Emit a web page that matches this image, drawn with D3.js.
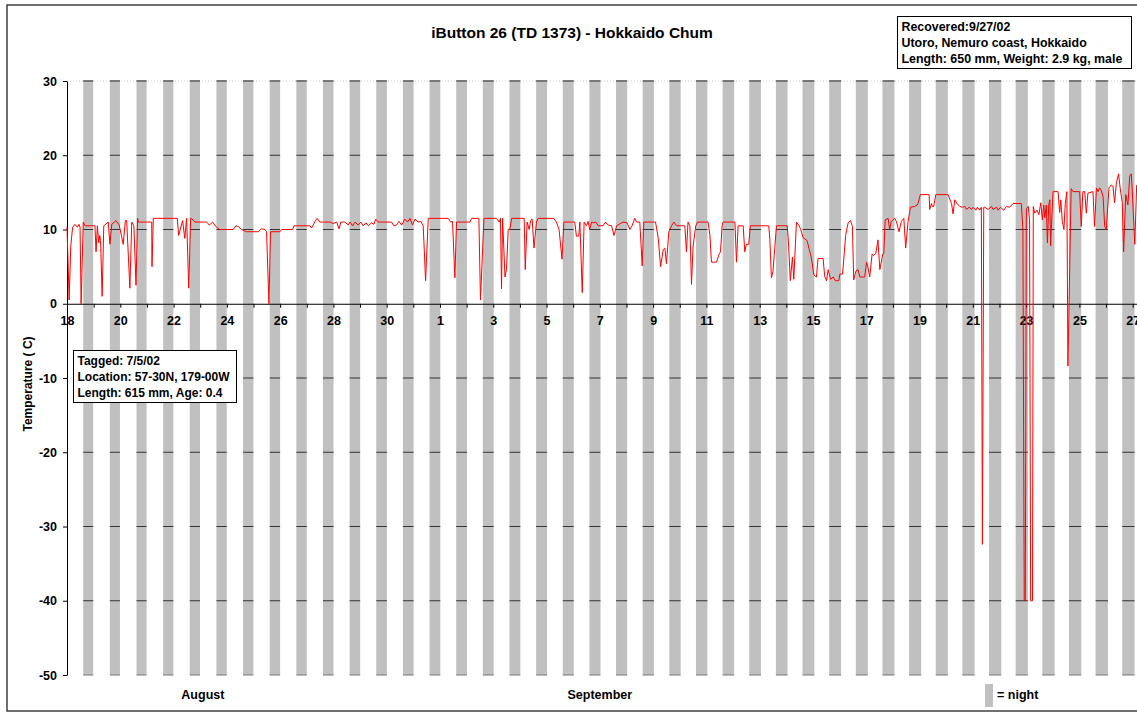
<!DOCTYPE html>
<html>
<head>
<meta charset="utf-8">
<script src="https://cdn.jsdelivr.net/npm/d3@7"></script>
<style>
    body { margin: 0; background: #fff; }
    text { font-family: "Liberation Sans", Arial, sans-serif; font-weight: bold; }
</style>
</head>
<body>
<div id="root"></div>
<script>
// readings: [days after Aug 18 00:00, temperature C]
const readings = [
    [0.00,10.4],[0.08,0.5],[0.14,7.7],[0.21,10.3],[0.30,10.7],[0.39,10.3],[0.45,10.7],[0.49,10.3],[0.53,0.0],[0.61,11.0],
    [0.68,10.5],[0.99,10.5],[1.05,10.5],[1.09,7.0],[1.14,10.5],[1.19,8.2],[1.23,9.2],[1.26,8.5],[1.32,1.0],[1.38,10.5],
    [1.55,11.0],[1.61,8.0],[1.68,10.7],[1.84,11.2],[1.96,10.6],[2.11,8.0],[2.19,11.2],[2.24,11.2],[2.36,2.1],[2.43,11.0],
    [2.51,10.5],[2.59,2.5],[2.65,11.5],[2.68,11.0],[3.18,11.0],[3.19,5.0],[3.24,11.5],[4.14,11.5],[4.19,9.2],[4.34,11.2],
    [4.42,8.8],[4.49,11.5],[4.57,2.1],[4.64,11.5],[4.70,11.4],[4.80,11.0],[5.24,11.0],[5.34,10.6],[5.47,11.0],[5.56,10.5],
    [5.72,10.0],[6.24,10.0],[6.34,10.5],[6.43,10.4],[6.55,10.0],[6.74,9.7],[7.18,9.7],[7.30,10.1],[7.43,10.0],[7.49,9.7],
    [7.58,0.0],[7.64,9.7],[7.99,9.7],[8.06,10.0],[8.47,10.0],[8.52,10.5],[9.12,10.5],[9.18,10.2],[9.31,11.1],[9.39,11.5],
    [9.49,11.0],[9.62,11.0],[9.87,11.0],[9.99,10.8],[10.12,11.0],[10.21,10.1],[10.28,11.0],[10.43,11.0],[10.56,10.6],[10.62,11.0],
    [10.72,10.5],[10.81,11.0],[10.93,10.6],[11.03,11.0],[11.12,10.5],[11.22,10.9],[11.31,10.5],[11.43,10.9],[11.52,10.7],[11.59,11.4],
    [11.68,11.0],[12.18,11.0],[12.27,10.5],[12.37,10.6],[12.46,11.1],[12.56,10.6],[12.68,11.4],[12.78,11.0],[12.87,11.5],[12.97,10.6],
    [13.06,11.4],[13.18,11.0],[13.28,11.1],[13.37,10.5],[13.46,3.1],[13.56,11.5],[14.31,11.5],[14.40,11.0],[14.47,11.1],[14.56,3.5],
    [14.62,11.0],[15.12,11.0],[15.19,11.5],[15.46,11.5],[15.52,0.5],[15.65,11.5],[16.12,11.5],[16.22,11.0],[16.27,11.5],[16.31,2.0],
    [16.35,11.5],[16.44,3.6],[16.50,4.8],[16.56,10.0],[16.62,10.0],[16.69,11.5],[17.16,11.5],[17.20,4.6],[17.27,11.0],[17.35,10.0],
    [17.40,11.2],[17.46,11.4],[17.53,7.5],[17.62,11.0],[17.68,11.5],[18.27,11.5],[18.37,11.0],[18.47,10.0],[18.58,6.0],[18.65,11.0],
    [19.06,11.0],[19.12,9.1],[19.21,9.1],[19.25,11.0],[19.34,1.5],[19.41,11.0],[19.50,10.5],[19.56,11.1],[19.62,10.0],[19.69,11.0],
    [19.77,10.9],[19.85,11.0],[19.94,10.5],[20.12,10.5],[20.21,11.0],[20.31,10.6],[20.44,10.5],[20.53,9.2],[20.63,10.5],[20.87,11.0],
    [21.02,10.9],[21.13,10.0],[21.21,10.5],[21.31,11.5],[21.38,11.0],[21.50,11.0],[21.59,5.1],[21.65,11.0],[22.09,11.0],[22.19,8.9],
    [22.28,5.0],[22.38,7.3],[22.44,7.5],[22.50,5.4],[22.59,9.7],[22.69,10.5],[22.78,11.0],[22.88,10.5],[23.19,10.5],[23.25,7.0],
    [23.31,11.0],[23.38,10.5],[23.44,2.6],[23.50,7.7],[23.60,10.5],[23.67,11.0],[24.06,11.0],[24.13,9.3],[24.19,5.6],[24.38,5.6],
    [24.47,6.6],[24.53,7.0],[24.59,10.5],[24.63,11.0],[25.07,11.0],[25.13,5.6],[25.19,10.5],[25.38,10.5],[25.44,7.0],[25.50,8.0],
    [25.59,8.0],[25.65,10.5],[26.34,10.5],[26.38,8.8],[26.44,3.5],[26.50,4.4],[26.63,10.5],[27.03,10.5],[27.07,8.9],[27.15,3.1],
    [27.23,6.3],[27.28,3.3],[27.38,11.0],[27.48,10.5],[27.54,10.0],[27.63,8.9],[27.78,8.5],[27.86,7.3],[27.94,6.2],[28.03,3.9],
    [28.13,3.6],[28.19,6.1],[28.38,6.1],[28.44,3.7],[28.51,3.1],[28.57,4.6],[28.66,3.3],[28.76,3.6],[28.84,3.1],[28.97,3.1],
    [29.01,4.0],[29.11,4.0],[29.23,9.3],[29.32,10.9],[29.41,11.2],[29.48,10.4],[29.53,3.2],[29.61,4.4],[29.69,4.6],[29.76,3.6],
    [29.94,3.6],[30.01,5.6],[30.07,4.8],[30.13,3.6],[30.22,6.7],[30.28,6.5],[30.36,6.8],[30.44,8.6],[30.51,4.6],[30.62,6.7],
    [30.66,6.8],[30.71,11.3],[30.82,11.5],[30.88,10.0],[30.94,11.1],[31.07,11.5],[31.13,11.1],[31.23,9.7],[31.32,11.1],[31.41,11.5],
    [31.48,7.5],[31.57,11.1],[31.66,13.0],[31.82,13.1],[31.91,13.3],[31.94,13.5],[32.03,14.7],[32.36,14.7],[32.38,12.7],[32.45,13.5],
    [32.48,13.1],[32.53,13.1],[32.61,14.7],[33.07,14.7],[33.20,13.5],[33.26,12.1],[33.32,14.0],[33.41,13.5],[33.51,13.1],[33.61,13.0],
    [33.70,13.1],[33.76,12.7],[33.86,13.0],[33.95,12.7],[34.01,13.0],[34.11,12.6],[34.17,13.0],[34.26,12.6],[34.32,13.0],[34.36,-32.4],
    [34.41,13.0],[34.45,13.0],[34.57,12.7],[34.70,13.1],[34.76,12.7],[34.89,13.0],[34.95,12.6],[35.04,13.0],[35.16,12.6],[35.26,13.1],
    [35.38,13.0],[35.51,13.5],[35.82,13.5],[35.88,10.0],[35.93,-40.0],[35.97,-40.0],[36.01,12.8],[36.08,13.1],[36.13,11.3],[36.17,-40.0],
    [36.24,-40.0],[36.27,13.1],[36.32,12.2],[36.41,12.6],[36.48,12.0],[36.55,13.6],[36.61,11.3],[36.66,13.3],[36.70,11.6],[36.76,13.3],
    [36.80,8.2],[36.85,13.3],[36.89,14.0],[36.92,7.8],[37.01,15.1],[37.20,15.1],[37.26,12.3],[37.30,14.0],[37.36,11.1],[37.42,10.0],
    [37.47,13.5],[37.53,15.1],[37.57,-8.4],[37.69,15.5],[37.76,15.1],[38.01,15.1],[38.07,10.4],[38.13,15.1],[38.20,15.1],[38.26,12.2],
    [38.32,14.9],[38.51,15.1],[38.57,10.4],[38.64,15.6],[38.70,15.1],[38.76,15.6],[38.82,15.3],[38.89,14.4],[38.95,10.4],[39.01,10.0],
    [39.11,15.6],[39.20,16.0],[39.26,15.8],[39.32,13.6],[39.39,16.3],[39.47,17.5],[39.53,15.6],[39.61,13.6],[39.66,7.0],[39.74,14.7],
    [39.82,13.3],[39.89,17.2],[39.95,17.5],[40.01,13.3],[40.08,8.0],[40.15,16.0]
];

// night bars: start hour of each evening and length in hours, one per day from Aug 18
const nightStartHour = 14.6;
const nightHours = [
    9.0, 9.1, 9.1, 9.2, 9.2, 9.3, 9.3, 9.4, 9.4, 9.5,
    9.5, 9.6, 9.6, 9.7, 9.7, 9.8, 9.8, 9.9, 9.9, 10.0,
    10.0, 10.1, 10.2, 10.3, 10.4, 10.5, 10.5, 10.6, 10.7, 10.8,
    10.8, 10.9, 10.9, 11.0, 11.0, 11.0, 11.1, 11.1, 11.1, 11.1
];

const yTicks = [30, 20, 10, 0, -10, -20, -30, -40, -50];
const monthLabels = [["August", 5.1], ["September", 20.0]];
const tagLines = ["Tagged: 7/5/02", "Location: 57-30N, 179-00W", "Length: 615 mm, Age: 0.4"];
const recoverLines = ["Recovered:9/27/02", "Utoro, Nemuro coast, Hokkaido", "Length: 650 mm, Weight: 2.9 kg, male"];

const width = 1137, height = 715;
const start = new Date(2002, 7, 18);
const DAY = 864e5;
const toDate = t => new Date(start.getTime() + t * DAY);

const svg = d3.select("#root").append("svg")
    .attr("width", width)
    .attr("height", height);

const x = d3.scaleTime()
    .domain([start, toDate(40.2)])
    .range([67, 1138]);

const y = d3.scaleLinear()
    .domain([-50, 30])
    .range([675, 81]);

// outer frame
svg.append("rect")
    .attr("x", 7).attr("y", 5)
    .attr("width", width + 20).attr("height", 706)
    .attr("fill", "none")
    .attr("stroke", "#222")
    .attr("stroke-width", 1.3);

// title
svg.append("text")
    .attr("x", 572).attr("y", 38)
    .attr("text-anchor", "middle")
    .style("font-size", "15.5px")
    .text("iButton 26 (TD 1373) - Hokkaido Chum");

// faint top border of plot
svg.append("line")
    .attr("x1", 67).attr("x2", 1138)
    .attr("y1", y(30)).attr("y2", y(30))
    .attr("stroke", "#ccc")
    .attr("stroke-dasharray", "1,2");

// night bars
const nights = nightHours.map((h, i) => ({
    s: toDate(i + nightStartHour / 24),
    e: toDate(i + (nightStartHour + h) / 24)
}));

svg.append("g").selectAll("rect")
    .data(nights)
    .enter().append("rect")
    .attr("x", d => x(d.s))
    .attr("y", y(30))
    .attr("width", d => x(d.e) - x(d.s))
    .attr("height", y(-50) - y(30))
    .attr("fill", "#c0c0c0");

// gridlines only show on the bars
const grid = svg.append("g");
yTicks.filter(v => v !== 0).forEach(v => {
    grid.selectAll(null)
        .data(nights)
        .enter().append("line")
        .attr("x1", d => x(d.s))
        .attr("x2", d => x(d.e))
        .attr("y1", y(v))
        .attr("y2", y(v))
        .attr("stroke", v === 30 || v === -50 ? "#777" : "#333")
        .attr("stroke-width", v === 30 ? 2 : 1);
});

// axes
const yAxis = svg.append("g")
    .attr("transform", "translate(67,0)")
    .call(d3.axisLeft(y)
        .tickValues(yTicks)
        .tickSize(4)
        .tickSizeOuter(0)
        .tickPadding(6)
        .tickFormat(d => String(d)));

const xAxis = svg.append("g")
    .attr("transform", `translate(0,${y(0)})`)
    .call(d3.axisBottom(x)
        .tickValues(d3.timeDay.range(start, toDate(40.2)))
        .tickSize(4)
        .tickSizeOuter(0)
        .tickPadding(8)
        .tickFormat((d, i) => i % 2 === 0 ? d.getDate() : ""));

[yAxis, xAxis].forEach(a => {
    a.selectAll("path, line").attr("stroke", "#000");
    a.selectAll("text")
        .style("font-size", "12.5px")
        .style("font-family", "'Liberation Sans', Arial, sans-serif")
        .style("font-weight", "bold")
        .attr("fill", "#000");
});

// temperature line
const line = d3.line()
    .x(d => x(toDate(d[0])))
    .y(d => y(d[1]));

svg.append("path")
    .datum(readings)
    .attr("fill", "none")
    .attr("stroke", "#ff0000")
    .attr("stroke-width", 1)
    .attr("stroke-linejoin", "round")
    .attr("d", line);

// y axis title
svg.append("text")
    .attr("transform", "translate(32,384) rotate(-90)")
    .attr("text-anchor", "middle")
    .style("font-size", "12px")
    .text("Temperature ( C)");

// month labels
svg.append("g").selectAll("text")
    .data(monthLabels)
    .enter().append("text")
    .attr("x", d => x(toDate(d[1])))
    .attr("y", 699)
    .attr("text-anchor", "middle")
    .style("font-size", "12.5px")
    .text(d => d[0]);

// legend
svg.append("rect")
    .attr("x", 985).attr("y", 684)
    .attr("width", 8).attr("height", 23)
    .attr("fill", "#c0c0c0");
svg.append("text")
    .attr("x", 997).attr("y", 699)
    .style("font-size", "12.5px")
    .text("= night");

// info boxes
function infoBox(x0, y0, w, h, lines, size) {
    const g = svg.append("g");
    g.append("rect")
        .attr("x", x0).attr("y", y0)
        .attr("width", w).attr("height", h)
        .attr("fill", "#fff")
        .attr("stroke", "#000")
        .attr("stroke-width", 1);
    g.selectAll("text")
        .data(lines)
        .enter().append("text")
        .attr("x", x0 + 4)
        .attr("y", (d, i) => y0 + 14.5 + i * 16)
        .style("font-size", size)
        .text(d => d);
}

infoBox(73.5, 350.5, 163, 52, tagLines, "12px");
infoBox(897.5, 16.5, 234, 52, recoverLines, "12.4px");
</script>
</body>
</html>
